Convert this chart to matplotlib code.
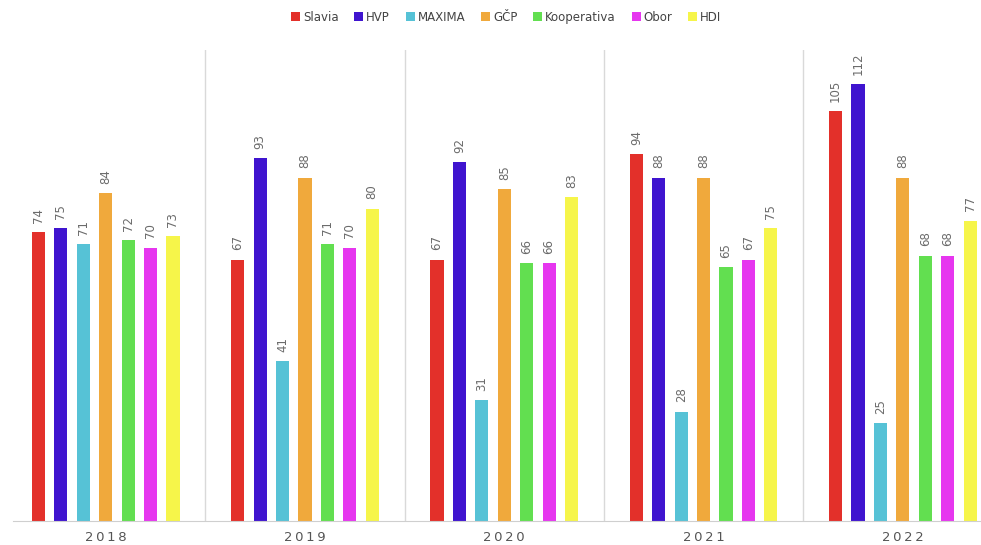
import matplotlib
matplotlib.use("Agg")
import matplotlib.pyplot as plt
import numpy as np

years = ["2018", "2019", "2020", "2021", "2022"]
companies = ["Slavia", "HVP", "MAXIMA", "GČP", "Kooperativa", "Obor", "HDI"]
colors = ["#E3302A", "#3F14CF", "#56C2D6", "#F0A93C", "#62DF50", "#E636EF", "#F6F54A"]

slavia = [74, 67, 67, 94, 105]
hvp = [75, 93, 92, 88, 112]
maxima = [71, 41, 31, 28, 25]
gcp = [84, 88, 85, 88, 88]
kooperativa = [72, 71, 66, 65, 68]
obor = [70, 70, 66, 67, 68]
hdi = [73, 80, 83, 75, 77]
series = [slavia, hvp, maxima, gcp, kooperativa, obor, hdi]

fig = plt.figure(figsize=(9.81, 5.45), dpi=100)
ax = fig.add_axes([13 / 981, 24 / 545, 968 / 981, 471 / 545])

x = np.arange(len(years))
step = 0.1125
width = 0.066
for i, (name, vals, c) in enumerate(zip(companies, series, colors)):
    pos = x + (i - 3) * step
    ax.bar(pos, vals, width, color=c, label=name, zorder=2)
    for px, v in zip(pos, vals):
        ax.text(px, v + 2.4, str(v), rotation=90, ha="center", va="bottom",
                fontsize=8.5, color="#6b6b6b")

# group separators
for b in x[:-1] + 0.5:
    ax.axvline(b, color="#d9d9d9", lw=1, zorder=1)

ax.set_xlim(-0.465, 4.392)
ax.set_ylim(0, 120.7)
ax.set_xticks(x)
ax.set_xticklabels(["\u2009".join(y) for y in years], fontsize=9.5, color="#555555")
ax.tick_params(axis="x", length=0, pad=7)
ax.set_yticks([])
for s in ["top", "right", "left"]:
    ax.spines[s].set_visible(False)
ax.spines["bottom"].set_color("#cfcfcf")

fig.legend(loc="upper center", bbox_to_anchor=(0.516, 1.0), ncol=7, frameon=False,
           fontsize=8.5, handlelength=0.75, handleheight=0.75, handletextpad=0.25,
           columnspacing=1.35, labelcolor="#444444")

fig.savefig("out.png", dpi=100)
